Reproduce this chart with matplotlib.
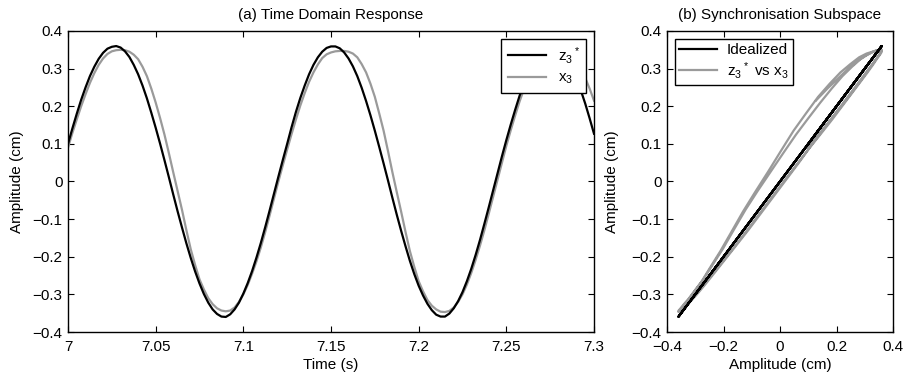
import numpy as np
import matplotlib
matplotlib.use('Agg')
import matplotlib.pyplot as plt

# time base (s), read every 2.5 ms
t = np.round(np.arange(121) * 0.0025 + 7.0, 4)

# z3* (black)
z3 = [0.100, 0.141, 0.180, 0.217, 0.250, 0.280, 0.305, 0.326, 0.342, 0.353,
      0.358, 0.360, 0.356, 0.346, 0.331, 0.310, 0.285, 0.255, 0.221, 0.183,
      0.143, 0.101, 0.057, 0.012, -0.034, -0.079, -0.122, -0.164, -0.203, -0.239,
      -0.271, -0.299, -0.322, -0.340, -0.352, -0.359, -0.360, -0.353, -0.340, -0.322,
      -0.298, -0.270, -0.238, -0.202, -0.163, -0.121, -0.077, -0.032, 0.013, 0.057,
      0.100, 0.144, 0.185, 0.222, 0.255, 0.285, 0.310, 0.330, 0.345, 0.355,
      0.359, 0.359, 0.354, 0.343, 0.327, 0.306, 0.280, 0.249, 0.214, 0.176,
      0.135, 0.092, 0.048, 0.003, -0.043, -0.088, -0.131, -0.172, -0.211, -0.246,
      -0.277, -0.303, -0.325, -0.342, -0.354, -0.359, -0.359, -0.351, -0.337, -0.318,
      -0.294, -0.265, -0.232, -0.195, -0.155, -0.112, -0.068, -0.023, 0.022, 0.067,
      0.110, 0.151, 0.190, 0.227, 0.260, 0.289, 0.313, 0.333, 0.348, 0.357,
      0.360, 0.359, 0.353, 0.341, 0.324, 0.301, 0.274, 0.242, 0.207, 0.168,
      0.127]

# x3 (grey)
x3 = [0.090, 0.129, 0.165, 0.200, 0.232, 0.262, 0.288, 0.310, 0.327, 0.339,
      0.346, 0.349, 0.350, 0.349, 0.345, 0.337, 0.325, 0.305, 0.280, 0.247,
      0.210, 0.169, 0.125, 0.076, 0.025, -0.025, -0.075, -0.129, -0.180, -0.222,
      -0.260, -0.287, -0.310, -0.326, -0.337, -0.343, -0.345, -0.343, -0.335, -0.320,
      -0.300, -0.275, -0.245, -0.212, -0.175, -0.134, -0.090, -0.045, 0.000, 0.043,
      0.085, 0.126, 0.165, 0.202, 0.235, 0.265, 0.290, 0.311, 0.328, 0.338,
      0.343, 0.346, 0.347, 0.347, 0.345, 0.340, 0.330, 0.312, 0.290, 0.260,
      0.225, 0.181, 0.135, 0.081, 0.025, -0.028, -0.080, -0.134, -0.185, -0.227,
      -0.265, -0.292, -0.315, -0.330, -0.340, -0.346, -0.347, -0.344, -0.335, -0.320,
      -0.300, -0.274, -0.243, -0.208, -0.170, -0.129, -0.085, -0.040, 0.005, 0.050,
      0.095, 0.136, 0.175, 0.212, 0.245, 0.274, 0.298, 0.318, 0.333, 0.343,
      0.347, 0.350, 0.350, 0.349, 0.343, 0.334, 0.320, 0.300, 0.275, 0.247,
      0.215]

t_ticks = [7, 7.05, 7.1, 7.15, 7.2, 7.25, 7.3]
t_labels = ['7', '7.05', '7.1', '7.15', '7.2', '7.25', '7.3']
a_ticks = [-0.4, -0.3, -0.2, -0.1, 0, 0.1, 0.2, 0.3, 0.4]
a_labels = ['\u22120.4', '\u22120.3', '\u22120.2', '\u22120.1', '0', '0.1', '0.2', '0.3', '0.4']
b_ticks = [-0.4, -0.2, 0, 0.2, 0.4]
b_labels = ['\u22120.4', '\u22120.2', '0', '0.2', '0.4']

plt.rcParams['font.family'] = ['Liberation Sans', 'DejaVu Sans']
plt.rcParams['font.size'] = 11
plt.rcParams['mathtext.fontset'] = 'custom'
plt.rcParams['mathtext.rm'] = 'Liberation Sans'

grey = '#9a9a9a'


def style_axes(ax):
    ax.tick_params(direction='in', top=True, right=True, length=4, width=0.8,
                   labelsize=11)
    ax.tick_params(axis='x', pad=6)
    ax.tick_params(axis='y', pad=4)
    for sp in ax.spines.values():
        sp.set_linewidth(1.0)


fig = plt.figure(figsize=(9.07, 3.78), dpi=100)
ax1 = fig.add_axes([68 / 907, 1 - 332 / 378, 526 / 907, 301 / 378])
ax2 = fig.add_axes([667 / 907, 1 - 332 / 378, 226 / 907, 301 / 378])

ax1.plot(t, z3, color='black', lw=1.6, label=r'$\mathregular{z_3{}^*}$', zorder=3)
ax1.plot(t, x3, color=grey, lw=1.6, label=r'$\mathregular{x_3}$', zorder=2)
ax1.set_xlim(7, 7.3)
ax1.set_ylim(-0.4, 0.4)
ax1.set_xticks(t_ticks)
ax1.set_xticklabels(t_labels)
ax1.set_yticks(a_ticks)
ax1.set_yticklabels(a_labels)
ax1.set_xlabel('Time (s)', labelpad=3)
ax1.set_ylabel('Amplitude (cm)', labelpad=6)
ax1.set_title('(a) Time Domain Response', fontsize=11, pad=9)
style_axes(ax1)
leg1 = ax1.legend(loc='upper right', fancybox=False, edgecolor='black',
                  framealpha=1, borderaxespad=0.5, handlelength=2.5,
                  labelspacing=0.35, borderpad=0.4, handletextpad=0.8)
leg1.get_frame().set_linewidth(1.0)

ax2.plot(z3, z3, color='black', lw=1.6, label='Idealized', zorder=3)
ax2.plot(z3, x3, color=grey, lw=1.6,
         label=r'$\mathregular{z_3{}^*}$ vs $\mathregular{x_3}$', zorder=2)
ax2.set_xlim(-0.4, 0.4)
ax2.set_ylim(-0.4, 0.4)
ax2.set_xticks(b_ticks)
ax2.set_xticklabels(b_labels)
ax2.set_yticks(a_ticks)
ax2.set_yticklabels(a_labels)
ax2.set_xlabel('Amplitude (cm)', labelpad=3)
ax2.set_ylabel('Amplitude (cm)', labelpad=9)
ax2.set_title('(b) Synchronisation Subspace', fontsize=11, pad=9)
style_axes(ax2)
leg2 = ax2.legend(loc='upper left', fancybox=False, edgecolor='black',
                  framealpha=1, borderaxespad=0.5, handlelength=2.5,
                  labelspacing=0.15, borderpad=0.3, handletextpad=0.6)
leg2.get_frame().set_linewidth(1.0)

fig.savefig('out.png', dpi=100)
